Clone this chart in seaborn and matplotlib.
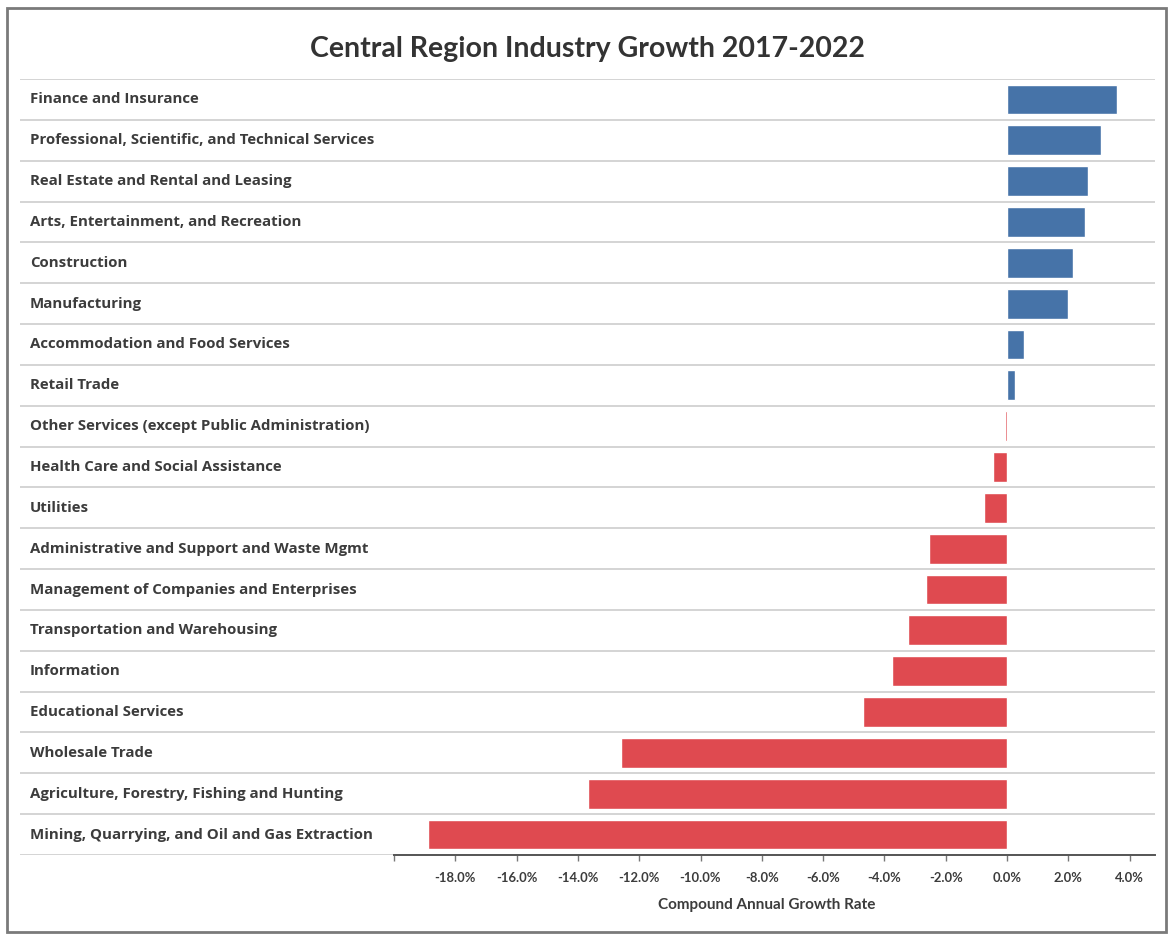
import matplotlib
matplotlib.use("Agg")
import matplotlib.pyplot as plt
import matplotlib.patches as mpatches
import matplotlib.transforms as mtransforms
import seaborn as sns
import pandas as pd

industries = [
    "Finance and Insurance",
    "Professional, Scientific, and Technical Services",
    "Real Estate and Rental and Leasing",
    "Arts, Entertainment, and Recreation",
    "Construction",
    "Manufacturing",
    "Accommodation and Food Services",
    "Retail Trade",
    "Other Services (except Public Administration)",
    "Health Care and Social Assistance",
    "Utilities",
    "Administrative and Support and Waste Mgmt",
    "Management of Companies and Enterprises",
    "Transportation and Warehousing",
    "Information",
    "Educational Services",
    "Wholesale Trade",
    "Agriculture, Forestry, Fishing and Hunting",
    "Mining, Quarrying, and Oil and Gas Extraction",
]
growth_pct = [3.59, 3.07, 2.64, 2.54, 2.15, 1.99, 0.54, 0.26, -0.08, -0.47,
              -0.74, -2.54, -2.64, -3.24, -3.76, -4.70, -12.58, -13.66, -18.88]
tick_values = [-18, -16, -14, -12, -10, -8, -6, -4, -2, 0, 2, 4]

title = "Central Region Industry Growth 2017-2022"
x_label = "Compound Annual Growth Rate"

BLUE = "#4673a8"
RED = "#df4a50"
TEXT = "#3c3c3c"

df = pd.DataFrame({"industry": industries, "growth": growth_pct})
df["direction"] = ["up" if v > 0 else "down" for v in df["growth"]]

sns.set_theme(style="white")
plt.rcParams["font.family"] = ["Lato", "DejaVu Sans"]

W, H = 1169, 934
fig = plt.figure(figsize=(W / 100, H / 100), dpi=100)
ax_left, ax_right, ax_top, ax_bottom = 20, 1155, 79, 855
ax = fig.add_axes([ax_left / W, 1 - ax_bottom / H,
                   (ax_right - ax_left) / W, (ax_bottom - ax_top) / H])

sns.barplot(data=df, y="industry", x="growth", hue="direction",
            palette={"up": BLUE, "down": RED}, dodge=False, legend=False,
            width=0.73, orient="h", ax=ax, saturation=1)

# x scale: -20% sits at 394 px and 0% at 1007 px
px_per_unit = (1007 - 394) / 20.0
ax.set_xlim(-(1007 - ax_left) / px_per_unit, (ax_right - 1007) / px_per_unit)
ax.set_ylim(len(industries) - 0.5, -0.5)

# row separators
for i in range(len(industries) + 1):
    ax.axhline(i - 0.5, color="#c9c9c9", lw=1.1, zorder=0)

# industry names in the left column
lbl_tr = mtransforms.blended_transform_factory(ax.transAxes, ax.transData)
for i, name in enumerate(industries):
    ax.text(10 / (ax_right - ax_left), i, name, transform=lbl_tr,
            ha="left", va="center", fontsize=10.8, fontweight="bold",
            color=TEXT, family=["Open Sans", "DejaVu Sans"])

for s in ["top", "right", "left"]:
    ax.spines[s].set_visible(False)
axis_start = -20
axis_end = ax.get_xlim()[1]
ax.spines["bottom"].set_bounds(axis_start, axis_end)
ax.spines["bottom"].set_color("#555555")
ax.spines["bottom"].set_linewidth(1.4)

ax.set_yticks([])
ax.set_ylabel("")
ax.set_xticks([axis_start] + tick_values)
ax.set_xticklabels([""] + [f"{v:.1f}%" for v in tick_values])
ax.tick_params(axis="x", bottom=True, length=4, width=1, color="#777777",
               labelsize=9.4, labelcolor=TEXT, pad=8)
for t in ax.get_xticklabels():
    t.set_fontweight("bold")

# axis title centred under the drawn part of the axis
ax.set_xlabel(x_label, fontsize=11, fontweight="bold", color=TEXT,
              labelpad=10)
x0, x1 = ax.get_xlim()
ax.xaxis.set_label_coords(((axis_start + axis_end) / 2 - 0.25 - x0) / (x1 - x0),
                          -0.055)

fig.text(587 / W, 1 - 49 / H, title, ha="center", va="center",
         fontsize=20.5, fontweight="bold", color="#333333")

# outer frame
fig.patches.append(mpatches.Rectangle((7 / W, 2 / H), (1166 - 7) / W,
                                      (932 - 8) / H, transform=fig.transFigure,
                                      fill=False, edgecolor="#7a7a7a", lw=2))

fig.savefig("out.png", dpi=100, facecolor="white")
